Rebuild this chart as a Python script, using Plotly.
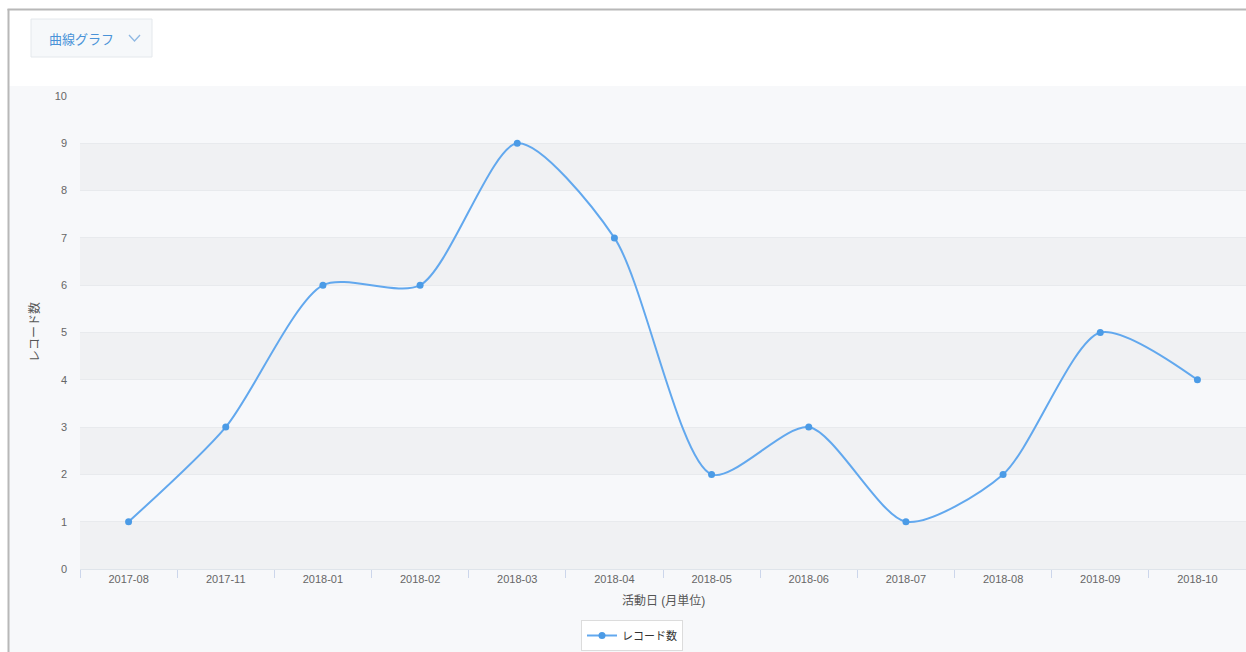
import plotly.graph_objects as go

months = ["2017-08", "2017-11", "2018-01", "2018-02", "2018-03", "2018-04",
          "2018-05", "2018-06", "2018-07", "2018-08", "2018-09", "2018-10"]
counts = [1, 3, 6, 6, 9, 7, 2, 3, 1, 2, 5, 4]
series_name = "レコード数"
x_title = "活動日 (月単位)"
y_title = "レコード数"
chart_type_label = "曲線グラフ"

W, H = 1246, 652
ML, MR, MT, MB = 80, 0, 96, H - 569
PW, PH = W - ML - MR, H - MT - MB

def px(x):
    return (x - ML) / PW

def py(y):
    return (H - MB - y) / PH

FONT = "Liberation Sans, Noto Sans CJK JP"
LINE = "#62a8ee"
MARK = "#4b9be6"

fig = go.Figure()
fig.add_trace(go.Scatter(
    x=months, y=counts, name=series_name, mode="lines+markers",
    line=dict(color=LINE, width=2, shape="spline", smoothing=0.75),
    marker=dict(color=MARK, size=7),
))

shapes = []
# chart area background
shapes.append(dict(type="rect", xref="paper", yref="paper", x0=px(8), x1=px(W + 2), y0=py(H + 2), y1=py(86),
                   fillcolor="#f7f8fa", line=dict(width=0), layer="below"))
# outer frame border
shapes.append(dict(type="line", xref="paper", yref="paper", x0=px(8.5), x1=px(8.5), y0=py(9), y1=py(H + 5),
                   line=dict(color="#b8b8b8", width=2), layer="above"))
shapes.append(dict(type="line", xref="paper", yref="paper", x0=px(7.5), x1=px(W + 5), y0=py(9.5), y1=py(9.5),
                   line=dict(color="#b8b8b8", width=2), layer="above"))
# chart-type dropdown button
shapes.append(dict(type="rect", xref="paper", yref="paper", x0=px(31), x1=px(152), y0=py(57), y1=py(19),
                   fillcolor="#f6f8fa", line=dict(color="#e4e8ec", width=1), layer="above"))
shapes.append(dict(type="path", xref="paper", yref="paper",
                   path=f"M {px(129)},{py(35)} L {px(134.5)},{py(41)} L {px(140)},{py(35)}",
                   line=dict(color="#8fb8e3", width=1.3), layer="above"))
# alternating bands
for y0 in range(0, 10, 2):
    shapes.append(dict(type="rect", xref="x domain", yref="y", x0=0, x1=1, y0=y0, y1=y0 + 1,
                       fillcolor="#f0f1f3", line=dict(width=0), layer="below"))

annotations = [
    dict(text=chart_type_label, xref="paper", yref="paper", x=px(47), y=py(39),
         xanchor="left", yanchor="middle", showarrow=False,
         font=dict(family="Noto Sans CJK JP", size=13, color="#4a93d8")),
    dict(text=x_title, xref="paper", yref="paper", x=px(663), y=py(601),
         xanchor="center", yanchor="middle", showarrow=False,
         font=dict(family=FONT, size=12, color="#555555")),
    dict(text=y_title, xref="paper", yref="paper", x=px(34), y=py(332),
         xanchor="center", yanchor="middle", showarrow=False, textangle=-90,
         font=dict(family=FONT, size=12, color="#555555")),
]

fig.update_layout(
    width=W, height=H,
    margin=dict(l=ML, r=MR, t=MT, b=MB, pad=0),
    paper_bgcolor="white", plot_bgcolor="rgba(0,0,0,0)",
    font=dict(family=FONT, size=11, color="#666666"),
    shapes=shapes, annotations=annotations,
    showlegend=True,
    legend=dict(orientation="h", x=px(632), xanchor="center", y=py(620), yanchor="top",
                bordercolor="#dcdcdc", borderwidth=1, bgcolor="#ffffff",
                font=dict(family=FONT, size=11, color="#333333"),
                itemwidth=30),
    xaxis=dict(type="category", range=[-0.5, 11.5], showgrid=False, zeroline=False,
               showline=True, linecolor="#dfe4ea", linewidth=1,
               ticks="outside", tickson="boundaries", ticklen=8, tickcolor="#ccd6eb",
               tickfont=dict(family=FONT, size=11, color="#666666")),
    yaxis=dict(range=[0, 10], dtick=1, showgrid=True, gridcolor="#e8eaed", gridwidth=1,
               zeroline=False, showline=False, ticks="", ticklabelstandoff=12,
               tickfont=dict(family=FONT, size=11, color="#666666")),
)

fig.write_html("out.html", config={"displayModeBar": False},
               post_script="document.body.style.margin='0';document.body.style.overflow='hidden';document.documentElement.style.overflow='hidden';")
